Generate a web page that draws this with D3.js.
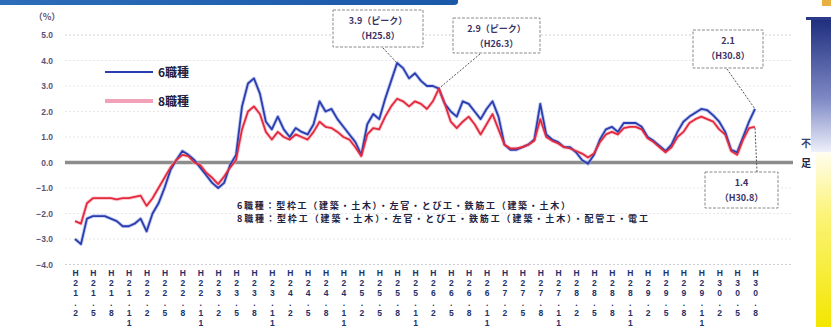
<!DOCTYPE html>
<html>
<head>
<meta charset="utf-8">
<script src="https://cdn.jsdelivr.net/npm/d3@7"></script>
<style>
  body { margin: 0; background: #fff; }
  svg { display: block; font-family: "Noto Sans CJK JP", "Noto Sans", sans-serif; }
</style>
</head>
<body>
<svg id="chart" width="831" height="327"></svg>
<script>
// 建設技能労働者過不足率（原数値）月次 H21.2 〜 H30.8
const tickLabels = [
  "H21.2","H21.5","H21.8","H21.11",
  "H22.2","H22.5","H22.8","H22.11",
  "H23.2","H23.5","H23.8","H23.11",
  "H24.2","H24.5","H24.8","H24.11",
  "H25.2","H25.5","H25.8","H25.11",
  "H26.2","H26.5","H26.8","H26.11",
  "H27.2","H27.5","H27.8","H27.11",
  "H28.2","H28.5","H28.8","H28.11",
  "H29.2","H29.5","H29.8","H29.11",
  "H30.2","H30.5","H30.8"
];

// 6職種（%）
const series6 = [
  -3.0,-3.2,-2.2,-2.1,-2.1,-2.1,-2.2,-2.3,-2.5,-2.5,
  -2.4,-2.2,-2.7,-2.0,-1.6,-1.0,-0.3, 0.1, 0.45,0.3,
   0.1,-0.2,-0.5,-0.8,-1.0,-0.8,-0.1, 0.3, 2.2, 3.1,
   3.3, 2.7, 1.6, 1.3, 1.8, 1.3, 1.0, 1.35,1.2, 1.1,
   1.5, 2.4, 2.0, 2.1, 1.7, 1.4, 1.1, 0.8, 0.3, 1.5,
   1.9, 1.7, 2.5, 3.2, 3.9, 3.7, 3.3, 3.5, 3.2, 3.0,
   3.0, 2.9, 2.3, 2.0, 1.8, 2.4, 2.3, 2.0, 1.7, 2.1,
   2.4, 1.8, 0.7, 0.5, 0.5, 0.6, 0.7, 0.9, 2.3, 1.1,
   0.9, 0.8, 0.6, 0.6, 0.4, 0.1,-0.05,0.3, 0.9, 1.3,
   1.4, 1.2, 1.55,1.55,1.55,1.4, 1.0, 0.85,0.65,0.45,
   0.7, 1.2, 1.6, 1.8, 1.95,2.1, 2.05,1.85,1.6, 1.2,
   0.5, 0.4, 1.0, 1.6, 2.1
];

// 8職種（%）
const series8 = [
  -2.3,-2.4,-1.6,-1.4,-1.4,-1.4,-1.4,-1.45,-1.4,-1.4,
  -1.35,-1.3,-1.7,-1.4,-1.0,-0.6,-0.2, 0.1, 0.3, 0.25,
   0.0,-0.1,-0.4,-0.6,-0.85,-0.55,-0.2,0.1, 1.3, 2.0,
   2.2, 1.9, 1.2, 0.9, 1.2, 1.0, 0.9, 1.1, 1.0, 0.9,
   1.2, 1.6, 1.4, 1.35,1.2, 1.0, 0.9, 0.6, 0.25,1.1,
   1.35,1.3, 1.8, 2.2, 2.5, 2.4, 2.2, 2.4, 2.3, 2.1,
   2.4, 2.9, 2.3, 1.6, 1.35,1.6, 1.8, 1.5, 1.1, 1.5,
   1.9, 1.3, 0.7, 0.55,0.55,0.6, 0.7, 0.85,1.7, 1.0,
   0.85,0.75,0.6, 0.55,0.45,0.35,0.2, 0.35,0.8, 1.1,
   1.2, 1.1, 1.35,1.4, 1.4, 1.3, 0.95,0.8, 0.6, 0.4,
   0.6, 1.0, 1.2, 1.55,1.7, 1.8, 1.7, 1.6, 1.3, 1.1,
   0.45,0.3, 0.9, 1.35,1.4
];

const yTicks = [5, 4, 3, 2, 1, 0, -1, -2, -3, -4];
const seriesNames = ["6職種", "8職種"];
const definitions = [
  "6職種：型枠工（建築・土木）・左官・とび工・鉄筋工（建築・土木）",
  "8職種：型枠工（建築・土木）・左官・とび工・鉄筋工（建築・土木）・配管工・電工"
];
// 吹き出し：対象系列・月番号・文言
const callouts = [
  { series: 0, index: 54, lines: ["3.9（ピーク）", "（H25.8）"] },
  { series: 1, index: 61, lines: ["2.9（ピーク）", "（H26.3）"] },
  { series: 0, index: 114, lines: ["2.1", "（H30.8）"] },
  { series: 1, index: 114, lines: ["1.4", "（H30.8）"] }
];

const svg = d3.select("#chart");
const x = d3.scaleLinear().domain([0, series6.length - 1]).range([75, 755]);
const y = d3.scaleLinear().domain([-4, 5]).range([264.5, 35]);
const blue = "#2a3eb0", red = "#e42a3c";

// 背景の装飾帯
const defs = svg.append("defs");
const gb = defs.append("linearGradient").attr("id", "gBlue").attr("x1", 0).attr("y1", 0).attr("x2", 0).attr("y2", 1);
gb.append("stop").attr("offset", 0).attr("stop-color", "#1c2c7c");
gb.append("stop").attr("offset", 0.6).attr("stop-color", "#7d88c4");
gb.append("stop").attr("offset", 1).attr("stop-color", "#eef0fa");
const gy = defs.append("linearGradient").attr("id", "gYellow").attr("x1", 0).attr("y1", 0).attr("x2", 0).attr("y2", 1);
gy.append("stop").attr("offset", 0).attr("stop-color", "#fffdf0");
gy.append("stop").attr("offset", 0.35).attr("stop-color", "#fbf47a");
gy.append("stop").attr("offset", 1).attr("stop-color", "#f3e600");
const gt = defs.append("linearGradient").attr("id", "gTop").attr("x1", 0).attr("y1", 0).attr("x2", 1).attr("y2", 0);
gt.append("stop").attr("offset", 0).attr("stop-color", "#2c6cb8");
gt.append("stop").attr("offset", 1).attr("stop-color", "#1a58a8");

svg.append("path").attr("d", "M0,0 H458 V2 Q458,5 454,5 H0 Z").attr("fill", "url(#gTop)");
svg.append("rect").attr("x", 811).attr("y", 17).attr("width", 20).attr("height", 135).attr("fill", "url(#gBlue)");
svg.append("rect").attr("x", 806).attr("y", 17).attr("width", 25).attr("height", 3).attr("fill", "#2a3a88");
svg.append("rect").attr("x", 816).attr("y", 152).attr("width", 15).attr("height", 175).attr("fill", "url(#gYellow)");
svg.append("rect").attr("x", 822).attr("y", 0).attr("width", 9).attr("height", 6).attr("fill", "#e8b040");

// 目盛線
svg.append("g").selectAll("line").data(yTicks.filter(d => d !== 0)).join("line")
  .attr("x1", 65).attr("x2", 793)
  .attr("y1", d => y(d)).attr("y2", d => y(d))
  .attr("stroke", d => (d === 5 || d === -4) ? "#cfcfd8" : "#e6e6ec")
  .attr("stroke-dasharray", "2,2").attr("stroke-width", 1);

// 0 の基準線
svg.append("line").attr("x1", 65).attr("x2", 793).attr("y1", y(0)).attr("y2", y(0))
  .attr("stroke", "#8c8c8c").attr("stroke-width", 3.5);

// Y 軸
const yAxis = svg.append("g").attr("transform", "translate(56,0)")
  .call(d3.axisLeft(y).tickValues(yTicks).tickFormat(d3.format(".1f")).tickSize(0).tickPadding(3));
yAxis.select(".domain").remove();
yAxis.selectAll("text").attr("fill", "#5c5478").attr("font-size", 8.5).attr("font-weight", "bold")
  .attr("font-family", "Liberation Sans, Arial, sans-serif");
svg.append("text").attr("x", 47).attr("y", 20).attr("text-anchor", "middle")
  .attr("font-size", 9).attr("font-weight", "bold").attr("fill", "#5c5478").text("（%）");

// X 軸（縦書きラベル）
const xAxis = svg.append("g").attr("transform", "translate(0,265)")
  .call(d3.axisBottom(x).tickValues(d3.range(0, series6.length, 3))
    .tickFormat((d, i) => tickLabels[i]).tickSize(0).tickPadding(0));
xAxis.select(".domain").remove();
xAxis.selectAll("text").each(function () {
  const t = d3.select(this);
  const s = t.text();
  t.text(null).attr("dy", null).attr("y", 0)
    .attr("font-size", 8.5).attr("font-weight", "bold").attr("fill", "#23306a")
    .attr("font-family", "Liberation Sans, Arial, sans-serif");
  Array.from(s).forEach((ch, k) => {
    t.append("tspan").attr("x", 0).attr("y", 11 + k * 10).attr("text-anchor", "middle").text(ch);
  });
});

// 折れ線
const line = d3.line().x((d, i) => x(i)).y(d => y(d));
const data = [series6, series8];
const colors = [blue, red];
const halos = ["#9aa6e6", "#f6a8b6"];
data.forEach((s, k) => {
  svg.append("path").datum(s).attr("d", line).attr("fill", "none")
    .attr("stroke", halos[k]).attr("stroke-width", 3.6).attr("stroke-opacity", 0.6).attr("stroke-linejoin", "round");
});
data.forEach((s, k) => {
  svg.append("path").datum(s).attr("d", line).attr("fill", "none")
    .attr("stroke", colors[k]).attr("stroke-width", 1.8).attr("stroke-linejoin", "round");
});

// 凡例
const legend = svg.append("g");
[[72, blue, 2.2], [101, "#f2a2b8", 4]].forEach(([ly, c, w], k) => {
  legend.append("line").attr("x1", 105).attr("x2", 153).attr("y1", ly).attr("y2", ly)
    .attr("stroke", c).attr("stroke-width", w);
  legend.append("text").attr("x", 158).attr("y", ly + 4.5).attr("font-size", 12).attr("font-weight", "bold")
    .attr("fill", "#1c2040").text(seriesNames[k]);
});

// 職種の内訳
const defWidths = [333, 411];
definitions.forEach((t, k) => {
  svg.append("text").attr("x", 237).attr("y", 208.5 + k * 13).attr("font-size", 9)
    .attr("textLength", defWidths[k]).attr("lengthAdjust", "spacing")
    .attr("font-weight", "bold").attr("fill", "#1e2240").text(t);
});

// 不足
svg.append("text").attr("x", 806).attr("y", 147).attr("text-anchor", "middle").attr("font-size", 10)
  .attr("font-weight", "bold").attr("fill", "#3a3f70").text("不");
svg.append("text").attr("x", 806).attr("y", 167).attr("text-anchor", "middle").attr("font-size", 10)
  .attr("font-weight", "bold").attr("fill", "#1e2040").text("足");

// 吹き出し
const boxes = [
  { x: 333, y: 10, w: 90, h: 37, ax: 383, ay: 48 },
  { x: 453, y: 18, w: 87, h: 35, ax: 480, ay: 54 },
  { x: 693, y: 30, w: 70, h: 38, ax: 727, ay: 69 },
  { x: 705, y: 172, w: 73, h: 36, ax: 757, ay: 172 }
];
callouts.forEach((c, k) => {
  const b = boxes[k];
  const px = x(c.index), py = y(data[c.series][c.index]);
  svg.append("line").attr("x1", b.ax).attr("y1", b.ay).attr("x2", px).attr("y2", py)
    .attr("stroke", "#555").attr("stroke-width", 1).attr("stroke-dasharray", "2,1.5");
  svg.append("rect").attr("x", b.x).attr("y", b.y).attr("width", b.w).attr("height", b.h)
    .attr("fill", "#fff").attr("stroke", "#8a8a8a").attr("stroke-width", 1).attr("stroke-dasharray", "3,1.5");
  c.lines.forEach((t, j) => {
    svg.append("text").attr("x", b.x + b.w / 2).attr("y", b.y + 14 + j * 15)
      .attr("text-anchor", "middle").attr("font-size", 9).attr("font-weight", "bold")
      .attr("fill", "#3a3266").text(t);
  });
});
</script>
</body>
</html>
